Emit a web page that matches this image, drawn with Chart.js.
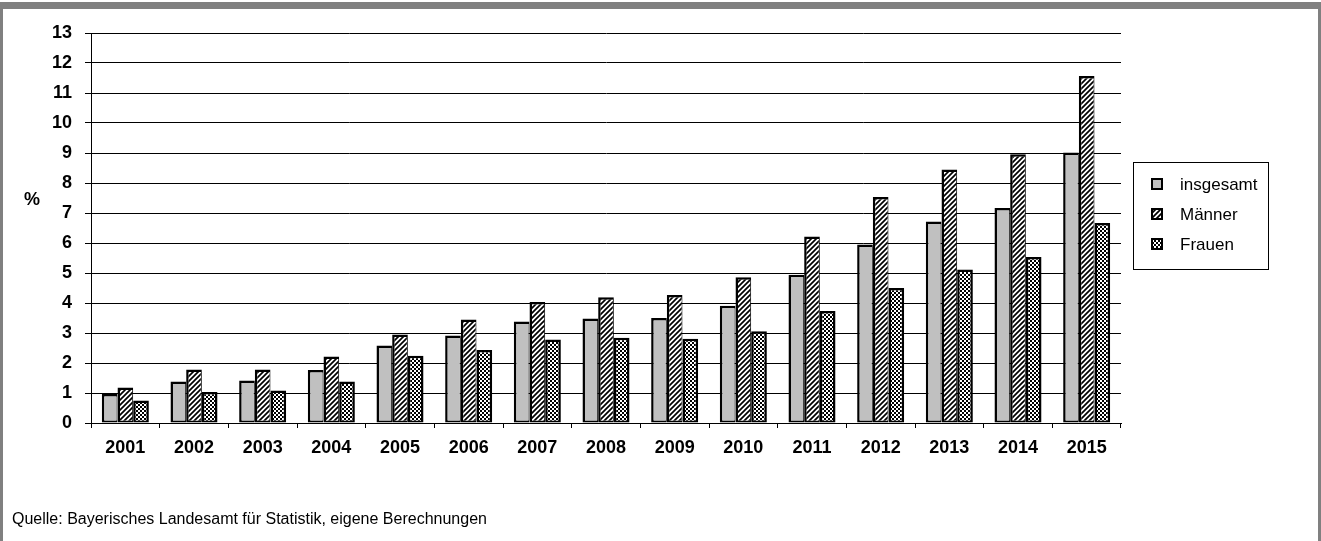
<!DOCTYPE html>
<html>
<head>
<meta charset="utf-8">
<script src="https://cdn.jsdelivr.net/npm/chart.js@4/dist/chart.umd.min.js"></script>
<style>
  html, body { margin: 0; padding: 0; background: #fff; }
  #wrap { position: relative; width: 1321px; height: 541px; }
</style>
</head>
<body>
<div id="wrap"><canvas id="chart" width="1321" height="541"></canvas></div>
<script>
const years = ["2001", "2002", "2003", "2004", "2005", "2006", "2007", "2008",
  "2009", "2010", "2011", "2012", "2013", "2014", "2015"];
const insgesamt = [0.97, 1.38, 1.42, 1.77, 2.58, 2.92, 3.38, 3.48, 3.5, 3.91, 4.94, 5.95, 6.72, 7.17, 9.02];
const maenner = [1.18, 1.78, 1.78, 2.22, 2.95, 3.45, 4.03, 4.19, 4.27, 4.86, 6.22, 7.53, 8.45, 8.96, 11.57];
const frauen = [0.75, 1.03, 1.08, 1.38, 2.24, 2.43, 2.78, 2.84, 2.81, 3.06, 3.73, 4.5, 5.12, 5.53, 6.67];
const seriesNames = ["insgesamt", "Männer", "Frauen"];
const sourceText = "Quelle: Bayerisches Landesamt für Statistik, eigene Berechnungen";

const FONT = "Arial, 'Liberation Sans', sans-serif";

// fill patterns like the old Excel chart
function hatchPattern() {
  const c = document.createElement("canvas");
  c.width = 5; c.height = 5;
  const g = c.getContext("2d");
  g.fillStyle = "#fff";
  g.fillRect(0, 0, 5, 5);
  g.strokeStyle = "#000";
  g.lineWidth = 1.7;
  g.beginPath();
  g.moveTo(-1, 6); g.lineTo(6, -1);
  g.moveTo(-1, 1); g.lineTo(1, -1);
  g.moveTo(4, 6); g.lineTo(6, 4);
  g.stroke();
  return g.createPattern(c, "repeat");
}

function checkPattern() {
  const c = document.createElement("canvas");
  c.width = 4; c.height = 4;
  const g = c.getContext("2d");
  g.fillStyle = "#000";
  g.fillRect(0, 0, 4, 4);
  g.fillStyle = "#fff";
  g.fillRect(0, 0, 2, 2);
  g.fillRect(2, 2, 2, 2);
  return g.createPattern(c, "repeat");
}

const fills = ["#c0c0c0", hatchPattern(), checkPattern()];

const framePlugin = {
  id: "frame",
  beforeDraw(chart) {
    const ctx = chart.ctx;
    ctx.save();
    ctx.fillStyle = "#fff";
    ctx.fillRect(0, 0, chart.width, chart.height);
    ctx.fillStyle = "#808080";
    ctx.fillRect(0, 2, chart.width, 7);
    ctx.fillRect(0, 2, 3, chart.height);
    ctx.fillRect(chart.width - 3, 2, 3, chart.height);
    ctx.restore();
  },
  afterDraw(chart) {
    const ctx = chart.ctx;
    ctx.save();
    // y unit
    ctx.fillStyle = "#000";
    ctx.font = "bold 18px " + FONT;
    ctx.textAlign = "center";
    ctx.textBaseline = "middle";
    ctx.fillText("%", 32, 200);

    // legend
    const lx = 1133, ly = 162, lw = 135, lh = 107;
    ctx.strokeStyle = "#000";
    ctx.lineWidth = 1;
    ctx.strokeRect(lx + 0.5, ly + 0.5, lw, lh);
    ctx.font = "17px " + FONT;
    ctx.textAlign = "left";
    seriesNames.forEach((name, i) => {
      const cy = 184 + i * 30;
      ctx.fillStyle = fills[i];
      ctx.fillRect(1152, cy - 5, 10, 10);
      ctx.lineWidth = 2;
      ctx.strokeRect(1152, cy - 5, 10, 10);
      ctx.fillStyle = "#000";
      ctx.fillText(name, 1180, cy + 1);
    });

    // source note
    ctx.font = "16px " + FONT;
    ctx.fillText(sourceText, 12, 520);
    ctx.restore();
  }
};

const borders = [
  { top: 2.5, left: 2.5, right: 1, bottom: 2 },
  { top: 2.5, left: 2.5, right: 1, bottom: 2 },
  { top: 2.5, left: 2.5, right: 2.5, bottom: 2 }
];

new Chart(document.getElementById("chart"), {
  type: "bar",
  data: {
    labels: years,
    datasets: [insgesamt, maenner, frauen].map((d, i) => ({
      label: seriesNames[i],
      data: d,
      backgroundColor: fills[i],
      borderColor: "#000",
      borderWidth: borders[i],
      borderSkipped: false,
      categoryPercentage: 0.685,
      barPercentage: 1
    }))
  },
  options: {
    responsive: false,
    animation: false,
    events: [],
    layout: { padding: { left: 0, top: 33, right: 200, bottom: 0 } },
    plugins: {
      legend: { display: false },
      tooltip: { enabled: false },
      title: { display: false }
    },
    scales: {
      x: {
        afterFit(s) { s.height = 118; },
        border: { color: "#000", width: 1 },
        grid: { drawOnChartArea: false, drawTicks: true, tickLength: 5, color: "#000" },
        ticks: { color: "#000", padding: 9, maxRotation: 0, font: { family: FONT, size: 18, weight: "bold" } }
      },
      y: {
        min: 0,
        max: 13,
        afterFit(s) { s.width = 91; },
        border: { color: "#000", width: 1 },
        grid: { color: "#000", lineWidth: 1, tickLength: 6 },
        ticks: { stepSize: 1, color: "#000", padding: 13, font: { family: FONT, size: 18, weight: "bold" } }
      }
    }
  },
  plugins: [framePlugin]
});
</script>
</body>
</html>
